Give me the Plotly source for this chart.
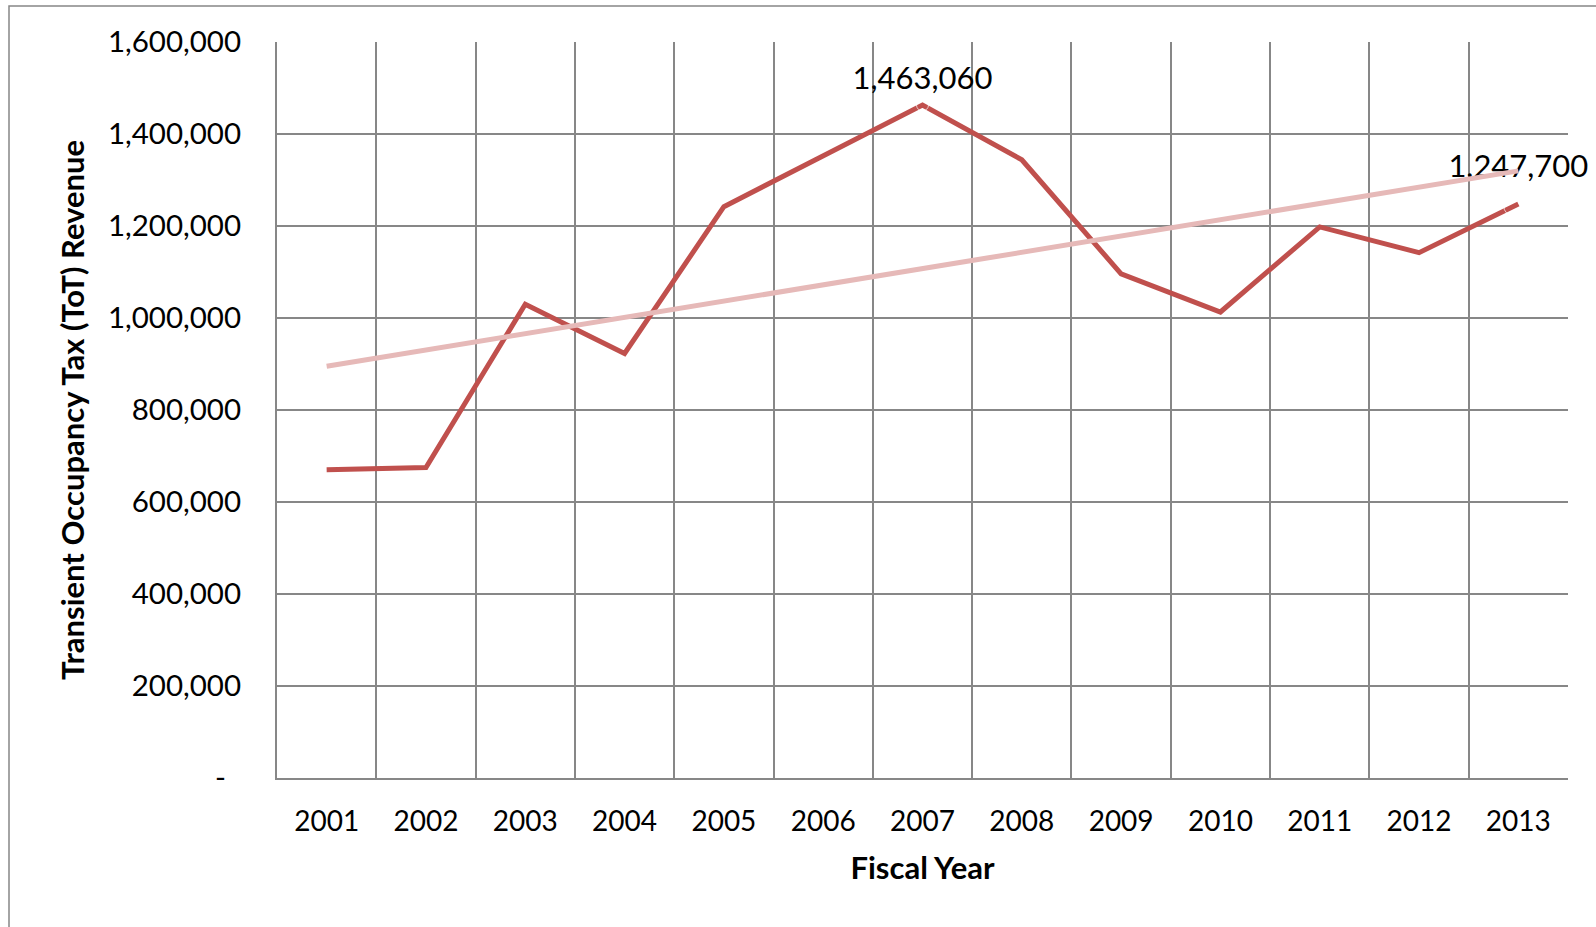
import numpy as np
import plotly.graph_objects as go

# Fiscal years and Transient Occupancy Tax revenue
years = ["2001", "2002", "2003", "2004", "2005", "2006", "2007",
         "2008", "2009", "2010", "2011", "2012", "2013"]
revenue = [670000, 675000, 1030000, 923000, 1242000, 1353000, 1463060,
           1344000, 1096000, 1013000, 1198000, 1142000, 1247700]

# Data labels shown for selected years
label_years = ["2007", "2013"]

y_ticks = [0, 200000, 400000, 600000, 800000, 1000000, 1200000, 1400000, 1600000]
y_ticktext = ["-\u00a0\u00a0"] + [f"{v:,}" for v in y_ticks[1:]]

# Linear trend fitted over the series
xi = np.arange(1, len(revenue) + 1)
slope, intercept = np.polyfit(xi, np.array(revenue, dtype=float), 1)
trend = slope * xi + intercept

W, H = 1596, 927
ML, MR, MT, MB = 277, 28, 42, 149
PW, PH = W - ML - MR, H - MT - MB

FONT = "Lato, 'Open Sans', sans-serif"
GRID = "#878787"
LINE_RED = "#C0504D"
TREND_PINK = "#E6B9B8"

fig = go.Figure()

fig.add_trace(go.Scatter(
    x=years, y=revenue, mode="lines",
    line=dict(color=LINE_RED, width=5),
    hoverinfo="x+y", showlegend=False,
))

# Value labels above the labelled points
lab_vals = [revenue[years.index(y)] for y in label_years]
fig.add_trace(go.Scatter(
    x=label_years, y=lab_vals, mode="markers+text",
    text=[f"{v:,}" for v in lab_vals],
    textposition="top center",
    textfont=dict(family=FONT, size=31, color="#000000"),
    marker=dict(size=[12, 30], color="rgba(0,0,0,0)"),
    hoverinfo="skip", showlegend=False, cliponaxis=False,
))

fig.add_trace(go.Scatter(
    x=years, y=trend, mode="lines",
    line=dict(color=TREND_PINK, width=5),
    hoverinfo="skip", showlegend=False,
))

# Outer chart border (left and top edges visible)
def px_to_paper_x(px):
    return (px - ML) / PW

def px_to_paper_y(py):
    return (H - MB - py) / PH

fig.add_shape(
    type="rect", xref="paper", yref="paper",
    x0=px_to_paper_x(9), x1=px_to_paper_x(W + 20),
    y0=px_to_paper_y(H + 20), y1=px_to_paper_y(6),
    line=dict(color=GRID, width=1.5), fillcolor="rgba(0,0,0,0)",
    layer="below",
)

fig.update_layout(
    width=W, height=H,
    margin=dict(l=ML, r=MR, t=MT, b=MB, pad=0),
    paper_bgcolor="white", plot_bgcolor="white",
    font=dict(family=FONT, size=28, color="#000000"),
    showlegend=False,
)

fig.update_xaxes(
    type="category", categoryorder="array", categoryarray=years,
    range=[-0.5, len(years) - 0.5],
    tickson="boundaries", ticks="",
    showgrid=True, gridcolor=GRID, gridwidth=1.5,
    showline=True, linecolor=GRID, linewidth=2,
    tickfont=dict(family=FONT, size=28, color="#000000"),
    ticklabelstandoff=17,
    title=dict(text="<b>Fiscal Year</b>", font=dict(family=FONT, size=31, color="#000000"),
               standoff=22),
    fixedrange=True,
)

fig.update_yaxes(
    range=[0, 1600000],
    tickmode="array", tickvals=y_ticks, ticktext=y_ticktext,
    ticks="",
    showgrid=True, gridcolor=GRID, gridwidth=1.5,
    showline=True, linecolor=GRID, linewidth=2,
    zeroline=False,
    tickfont=dict(family=FONT, size=29.5, color="#000000"),
    ticklabelstandoff=28,
    title=dict(text="<b>Transient Occupancy Tax (ToT) Revenue</b>",
               font=dict(family=FONT, size=31, color="#000000"), standoff=14),
    fixedrange=True,
)

fig.write_html("out.html")
